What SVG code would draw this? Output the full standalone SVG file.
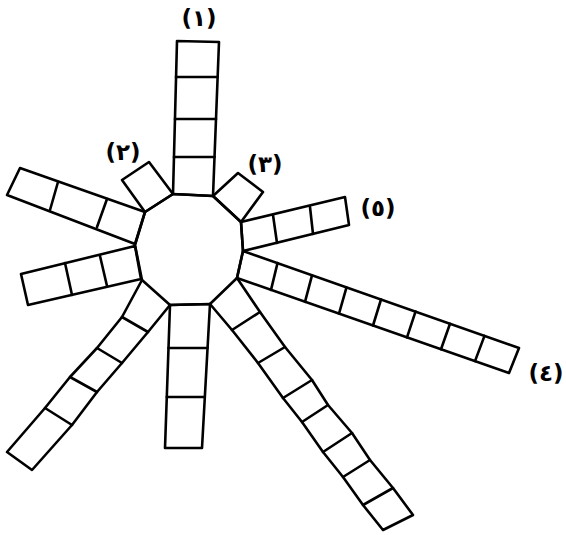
<svg xmlns="http://www.w3.org/2000/svg" width="566" height="535" viewBox="0 0 566 535">
<style>
.s{fill:none;stroke:#000;stroke-width:2.6;stroke-linejoin:round;stroke-linecap:round}
.t{font-family:"DejaVu Sans","Noto Sans",sans-serif;font-size:23px;font-weight:bold;fill:#000;text-anchor:middle;letter-spacing:2px}
</style>
<rect width="566" height="535" fill="#fff"/>
<g id="center">
<polygon class="s" points="173,194 213,196 241,222 243,251 237,278 210,304 170,305 142,280 135,245 145,212"/>
</g>
<g id="connectors">
<g id="arm1">
<polygon class="s" points="173,194 177,41 219,42 213,196"/>
<line class="s" x1="176" y1="77" x2="217.6" y2="77"/>
<line class="s" x1="175" y1="119" x2="216" y2="119"/>
<line class="s" x1="174" y1="157" x2="214.5" y2="157"/>
</g>
<g id="arm2">
<polygon class="s" points="145,212 122,180 149,162 173,194"/>
</g>
<g id="arm3">
<polygon class="s" points="213,196 238,173 263,192 241,222"/>
</g>
<g id="arm5">
<polygon class="s" points="241,222 345,197 349,225 243,251"/>
<line class="s" x1="273" y1="215" x2="277" y2="243"/>
<line class="s" x1="310" y1="207" x2="313" y2="234"/>
</g>
<g id="arm4">
<polygon class="s" points="243,251 519,348 509,373 237,278"/>
<line class="s" x1="277.5" y1="263.1" x2="271" y2="289.9"/>
<line class="s" x1="312" y1="275.3" x2="305" y2="301.8"/>
<line class="s" x1="346.5" y1="287.4" x2="339" y2="313.6"/>
<line class="s" x1="381" y1="299.5" x2="373" y2="325.5"/>
<line class="s" x1="415.5" y1="311.6" x2="407" y2="337.4"/>
<line class="s" x1="450" y1="323.8" x2="441" y2="349.3"/>
<line class="s" x1="484.5" y1="335.9" x2="475" y2="361.1"/>
</g>
<g id="arm-lower-right">
<polyline class="s" points="237,278 260,312 285,347 312,380 328,405 352,433 370,460 393,488 413,515 383,530 363,505 343,477 323,452 302,422 283,398 258,363 232,330 210,304"/>
<line class="s" x1="260" y1="312" x2="232" y2="330"/>
<line class="s" x1="285" y1="347" x2="258" y2="363"/>
<line class="s" x1="312" y1="380" x2="283" y2="398"/>
<line class="s" x1="328" y1="405" x2="302" y2="422"/>
<line class="s" x1="352" y1="433" x2="323" y2="452"/>
<line class="s" x1="370" y1="460" x2="343" y2="477"/>
<line class="s" x1="393" y1="488" x2="363" y2="505"/>
</g>
<g id="arm-bottom">
<polygon class="s" points="170,305 165,448 202,448 210,304"/>
<line class="s" x1="168.5" y1="348" x2="207.5" y2="348"/>
<line class="s" x1="166.8" y1="397" x2="204.8" y2="397"/>
</g>
<g id="arm-lower-left">
<polyline class="s" points="142,280 122,317 97,348 70,377 45,408 7,452 32,470 72,425 97,392 122,363 148,332 170,305"/>
<line class="s" x1="122" y1="317" x2="148" y2="332"/>
<line class="s" x1="97" y1="348" x2="122" y2="363"/>
<line class="s" x1="70" y1="377" x2="97" y2="392"/>
<line class="s" x1="45" y1="408" x2="72" y2="425"/>
</g>
<g id="arm-left-lower">
<polygon class="s" points="135,246 21,274 28,305 141,279"/>
<line class="s" x1="65" y1="263" x2="72" y2="295"/>
<line class="s" x1="100" y1="256" x2="107" y2="286"/>
</g>
<g id="arm-left-upper">
<polygon class="s" points="145,212 20,168 7,195 135,244"/>
<line class="s" x1="58" y1="182" x2="50" y2="210"/>
<line class="s" x1="107" y1="199" x2="97" y2="227"/>
</g>
</g>
<g id="labels">
<text class="t" x="199" y="26">(١)</text>
<text class="t" x="123" y="160">(٢)</text>
<text class="t" x="265" y="172">(٣)</text>
<text class="t" x="378" y="216">(٥)</text>
<text class="t" x="546" y="381">(٤)</text>
</g>
</svg>
